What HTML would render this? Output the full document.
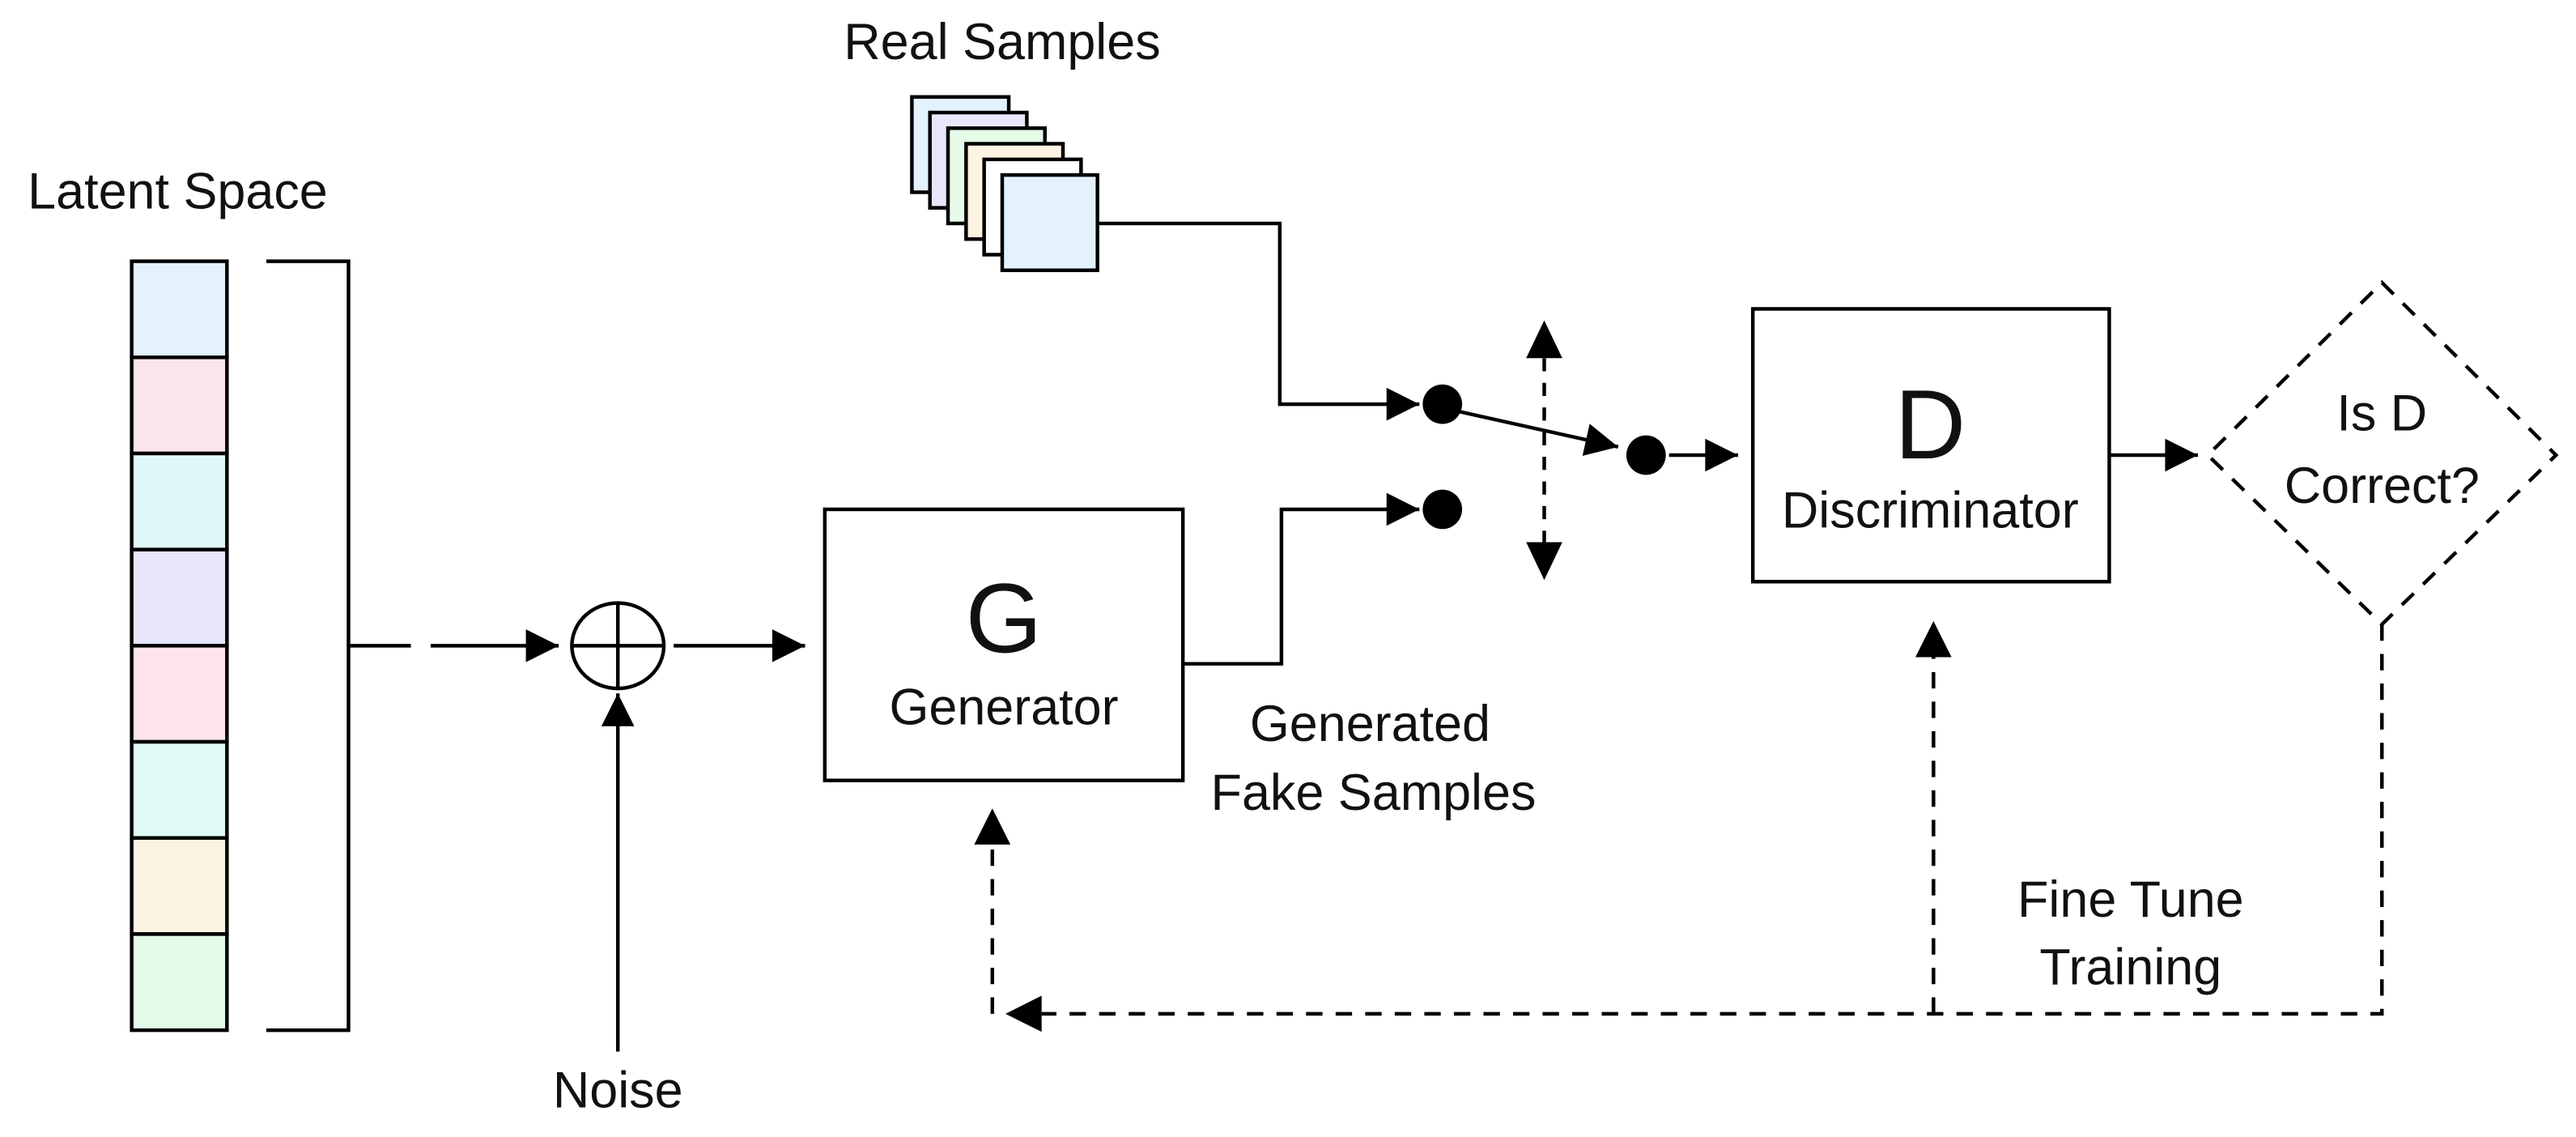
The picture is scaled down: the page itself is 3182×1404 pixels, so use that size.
<!DOCTYPE html>
<html><head><meta charset="utf-8"><style>
html,body{margin:0;padding:0;background:#fff;}
svg{display:block;}
text{font-family:"Liberation Sans",sans-serif;fill:#111;}
</style></head><body>
<svg width="3182" height="1404" viewBox="0 0 1568 692" xmlns="http://www.w3.org/2000/svg">
<defs>
<marker id="b" viewBox="0 0 10 10" refX="10" refY="5" markerWidth="22" markerHeight="20" markerUnits="userSpaceOnUse" orient="auto"><path d="M0,0 L10,5 L0,10 z" fill="#000"/></marker>
</defs>
<rect width="1568" height="692" fill="#fff"/>
<g stroke="#000" stroke-width="2.2" fill="none">
<rect x="80" y="159" width="58" height="58.5" fill="#e3f2fd"/>
<rect x="80" y="217.5" width="58" height="58.5" fill="#fce4ec"/>
<rect x="80" y="276" width="58" height="58.5" fill="#e0f7fa"/>
<rect x="80" y="334.5" width="58" height="58.5" fill="#e8e6fb"/>
<rect x="80" y="393" width="58" height="58.5" fill="#fde4ea"/>
<rect x="80" y="451.5" width="58" height="58.5" fill="#e0fbf6"/>
<rect x="80" y="510" width="58" height="58.5" fill="#fdf3e3"/>
<rect x="80" y="568.5" width="58" height="58.5" fill="#e3fbea"/>
<path d="M162,159 H212 V627 H162"/>
<path d="M212,393 H250"/>
<path d="M262,393 H340" marker-end="url(#b)"/>
<ellipse cx="376" cy="393" rx="28" ry="26"/>
<path d="M348,393 H404 M376,367 V419"/>
<path d="M410,393 H490" marker-end="url(#b)"/>
<path d="M376,640 V422" marker-end="url(#b)"/>
<rect x="502" y="310" width="218" height="165"/>
<path d="M720,404 H780 V310 H864" marker-end="url(#b)"/>
<rect x="555" y="59" width="59" height="58" fill="#e3f2fd"/>
<rect x="566" y="68.5" width="59" height="58" fill="#e8e6fb"/>
<rect x="577" y="78" width="59" height="58" fill="#e6fbe9"/>
<rect x="588" y="87.5" width="59" height="58" fill="#fdf3e3"/>
<rect x="599" y="97" width="59" height="58" fill="#fff"/>
<rect x="610" y="106.5" width="58" height="58" fill="#e3f2fd"/>
<path d="M668,136 H779 V246 H864" marker-end="url(#b)"/>
<path d="M886,250 L985,272" marker-end="url(#b)"/>
<path d="M1016,277 H1058" marker-end="url(#b)"/>
<path d="M940,218 V330" stroke-dasharray="8,7"/>
<rect x="1067" y="188" width="217" height="166"/>
<path d="M1284,277 H1338" marker-end="url(#b)"/>
<path d="M1450,172 L1556,277 L1450,380 L1344,277 Z" stroke-dasharray="10,8"/>
<path d="M1450,380 V617 H634" stroke-dasharray="10,8"/>
<path d="M1177,617 V400" stroke-dasharray="10,8"/>
<path d="M604,617 V512" stroke-dasharray="10,8"/>
</g>
<g fill="#000">
<circle cx="878" cy="246" r="12"/>
<circle cx="878" cy="310" r="12"/>
<circle cx="1002" cy="277" r="12"/>
<path d="M940,195 L929,218 L951,218 Z"/>
<path d="M940,353 L929,330 L951,330 Z"/>
<path d="M1177,378 L1166,400 L1188,400 Z"/>
<path d="M604,492 L593,514 L615,514 Z"/>
<path d="M612,617 L634,606 L634,628 Z"/>
</g>
<g font-size="31" text-anchor="middle">
<text x="108" y="127">Latent Space</text>
<text x="610" y="36">Real Samples</text>
<text x="376" y="674">Noise</text>
<text x="611" y="397" font-size="60">G</text>
<text x="611" y="441">Generator</text>
<text x="834" y="451">Generated</text>
<text x="836" y="493">Fake Samples</text>
<text x="1175" y="279" font-size="60">D</text>
<text x="1175" y="321">Discriminator</text>
<text x="1450" y="262">Is D</text>
<text x="1450" y="306">Correct?</text>
<text x="1297" y="558">Fine Tune</text>
<text x="1297" y="599">Training</text>
</g>
</svg>
</body></html>
